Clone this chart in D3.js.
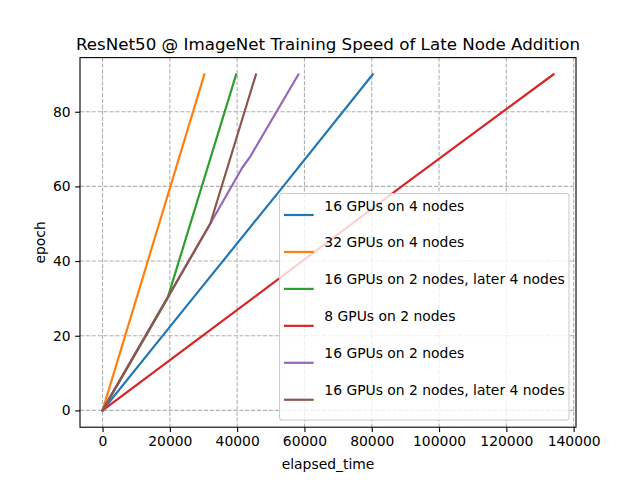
<!DOCTYPE html>
<html>
<head>
<meta charset="utf-8">
<script src="https://cdn.jsdelivr.net/npm/d3@7"></script>
<style>
    body { margin: 0; background: #fff; }
    svg { display: block; font-family: 'DejaVu Sans', sans-serif; }
</style>
</head>
<body>
<div id="chart"></div>
<script>
// knots: [elapsed_time, epoch]
const gpu16Node4 = [[0, 0], [26800, 30], [53700, 60], [80300, 90]];
const gpu32Node4 = [[0, 0], [30260, 90]];
const gpu16Node2Late4a = [[0, 0], [19300, 30], [39700, 90]];
const gpu8Node2 = [[0, 0], [44600, 30], [88900, 60], [134000, 90]];
const gpu16Node2 = [[0, 0], [32000, 50], [41500, 65], [43900, 68], [58200, 90]];
const gpu16Node2Late4b = [[0, 0], [32000, 50], [45600, 90]];

const seriesNames = [
    '16 GPUs on 4 nodes',
    '32 GPUs on 4 nodes',
    '16 GPUs on 2 nodes, later 4 nodes',
    '8 GPUs on 2 nodes',
    '16 GPUs on 2 nodes',
    '16 GPUs on 2 nodes, later 4 nodes'
];
const seriesColors = ['#1f77b4', '#ff7f0e', '#2ca02c', '#d62728', '#9467bd', '#8c564b'];
const xTicks = [0, 20000, 40000, 60000, 80000, 100000, 120000, 140000];
const yTicks = [0, 20, 40, 60, 80];

(function () {
    const series = [gpu16Node4, gpu32Node4, gpu16Node2Late4a, gpu8Node2, gpu16Node2, gpu16Node2Late4b]
        .map((pts, i) => ({name: seriesNames[i], color: seriesColors[i], points: pts}));

    const W = 640, H = 480;
    const plotLeft = 80, plotRight = 576, plotTop = 57.6, plotBottom = 427.2;

    const allX = series.flatMap(s => s.points.map(p => p[0]));
    const allY = series.flatMap(s => s.points.map(p => p[1]));
    const xMin = d3.min(allX), xMax = d3.max(allX);
    const yMin = d3.min(allY), yMax = d3.max(allY);
    const xPad = (xMax - xMin) * 0.05, yPad = (yMax - yMin) * 0.05;

    const x = d3.scaleLinear().domain([xMin - xPad, xMax + xPad]).range([plotLeft, plotRight]);
    const y = d3.scaleLinear().domain([yMin - yPad, yMax + yPad]).range([plotBottom, plotTop]);

    const svg = d3.select('#chart').append('svg')
        .attr('width', W)
        .attr('height', H);

    svg.append('rect').attr('width', W).attr('height', H).attr('fill', '#fff');

    // grid
    const grid = svg.append('g')
        .attr('stroke', '#b0b0b0')
        .attr('stroke-width', 1.1)
        .attr('stroke-dasharray', '4.1,1.8');
    grid.selectAll('.gx').data(xTicks).enter().append('line')
        .attr('x1', d => x(d)).attr('x2', d => x(d))
        .attr('y1', plotTop).attr('y2', plotBottom);
    grid.selectAll('.gy').data(yTicks).enter().append('line')
        .attr('y1', d => y(d)).attr('y2', d => y(d))
        .attr('x1', plotLeft).attr('x2', plotRight);

    // lines
    const line = d3.line().x(d => x(d[0])).y(d => y(d[1]));
    svg.append('g').selectAll('path').data(series).enter().append('path')
        .attr('d', d => line(d.points))
        .attr('fill', 'none')
        .attr('stroke', d => d.color)
        .attr('stroke-width', 2.2)
        .attr('stroke-linejoin', 'round')
        .attr('stroke-linecap', 'square');

    // axes
    const xAxis = d3.axisBottom(x).tickValues(xTicks).tickFormat(d3.format('d')).tickSize(4.9).tickPadding(4.5);
    const yAxis = d3.axisLeft(y).tickValues(yTicks).tickFormat(d3.format('d')).tickSize(4.9).tickPadding(4.5);

    const gx = svg.append('g').attr('transform', `translate(0,${plotBottom})`).call(xAxis);
    const gy = svg.append('g').attr('transform', `translate(${plotLeft},0)`).call(yAxis);
    [gx, gy].forEach(g => {
        g.select('.domain').remove();
        g.selectAll('line').attr('stroke', '#000').attr('stroke-width', 1.1);
        g.selectAll('text').attr('fill', '#000').style('font-size', '13.9px').style('font-family', 'DejaVu Sans');
    });

    // frame
    svg.append('rect')
        .attr('x', plotLeft).attr('y', plotTop)
        .attr('width', plotRight - plotLeft).attr('height', plotBottom - plotTop)
        .attr('fill', 'none')
        .attr('stroke', '#000')
        .attr('stroke-width', 1.1);

    // labels
    svg.append('text')
        .attr('x', (plotLeft + plotRight) / 2).attr('y', 49.5)
        .attr('text-anchor', 'middle')
        .style('font-size', '16.7px')
        .text('ResNet50 @ ImageNet Training Speed of Late Node Addition');

    svg.append('text')
        .attr('x', (plotLeft + plotRight) / 2).attr('y', 469)
        .attr('text-anchor', 'middle')
        .style('font-size', '13.9px')
        .text('elapsed_time');

    svg.append('text')
        .attr('transform', `translate(44.5,${(plotTop + plotBottom) / 2}) rotate(-90)`)
        .attr('text-anchor', 'middle')
        .style('font-size', '13.9px')
        .text('epoch');

    // legend
    const legend = svg.append('g');
    legend.append('rect')
        .attr('x', 279.5).attr('y', 193.5)
        .attr('width', 289.5).attr('height', 226.5)
        .attr('rx', 2.8)
        .attr('fill', '#fff').attr('fill-opacity', 0.8)
        .attr('stroke', '#cccccc').attr('stroke-width', 1.1);

    const item = legend.selectAll('.item').data(series).enter().append('g')
        .attr('transform', (d, i) => `translate(0,${215 + i * 36.95})`);
    item.append('line')
        .attr('x1', 284).attr('x2', 313.7)
        .attr('stroke', d => d.color)
        .attr('stroke-width', 2.2);
    item.append('text')
        .attr('x', 324.3).attr('y', -4.5)
        .style('font-size', '13.9px')
        .text(d => d.name);
})();
</script>
</body>
</html>
